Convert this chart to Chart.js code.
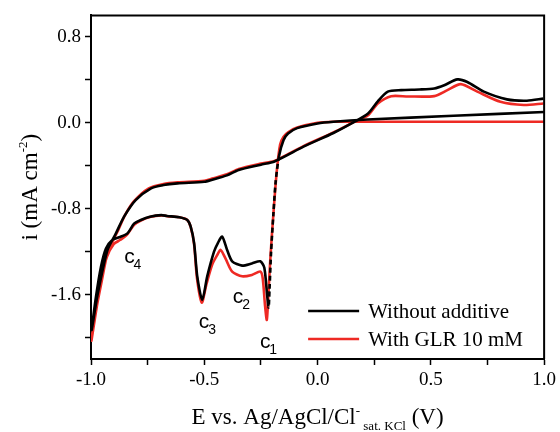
<!DOCTYPE html>
<html>
<head>
<meta charset="utf-8">
<script src="https://cdn.jsdelivr.net/npm/chart.js@4.4.1/dist/chart.umd.min.js"></script>
<style>
  html, body { margin: 0; padding: 0; background: #fff; }
  #wrap { width: 560px; height: 432px; position: relative; }
</style>
</head>
<body>
<div id="wrap"><canvas id="cvChart"></canvas></div>
<script>
// potential (V) and current density (mA cm-2)
const blackE = [1.0, 0.6, 0.22, 0.07, 0.0, -0.09, -0.13, -0.15, -0.17, -0.185, -0.195, -0.205, -0.212, -0.216,
  -0.222, -0.235, -0.253, -0.29, -0.333, -0.377, -0.40, -0.421, -0.44, -0.457, -0.487, -0.509, -0.531, -0.545,
  -0.56, -0.575, -0.61, -0.664, -0.69, -0.74, -0.78, -0.81, -0.839, -0.875, -0.905, -0.934, -0.956, -0.978, -0.997,
  -0.97, -0.927, -0.89, -0.854, -0.803, -0.735, -0.68, -0.618, -0.5, -0.465, -0.40, -0.348, -0.25, -0.19,
  -0.06, 0.07, 0.164, 0.223, 0.266, 0.31, 0.369, 0.45, 0.515, 0.559, 0.617, 0.661, 0.734, 0.836, 0.924, 0.997];
const blackI = [0.10, 0.065, 0.03, 0.01, -0.006, -0.05, -0.10, -0.16, -0.31, -0.55, -0.85, -1.2, -1.55, -1.72,
  -1.62, -1.35, -1.29, -1.31, -1.33, -1.29, -1.18, -1.06, -1.12, -1.2, -1.43, -1.65, -1.43, -1.12,
  -0.967, -0.905, -0.88, -0.868, -0.86, -0.875, -0.905, -0.94, -1.03, -1.066, -1.09, -1.17, -1.34, -1.62, -1.93,
  -1.59, -1.184, -1.03, -0.874, -0.72, -0.61, -0.58, -0.564, -0.549, -0.53, -0.49, -0.44, -0.39, -0.36,
  -0.22, -0.095, 0.01, 0.087, 0.2, 0.29, 0.304, 0.31, 0.32, 0.35, 0.404, 0.38, 0.29, 0.218, 0.205, 0.225];

const redE = [1.0, 0.5, 0.15, 0.07, 0.0, -0.09, -0.13, -0.15, -0.165, -0.18, -0.195, -0.208, -0.217, -0.224,
  -0.232, -0.242, -0.253, -0.29, -0.333, -0.377, -0.405, -0.428, -0.445, -0.465, -0.49, -0.511, -0.532, -0.545,
  -0.56, -0.575, -0.61, -0.664, -0.69, -0.74, -0.78, -0.81, -0.84, -0.87, -0.9, -0.93, -0.955, -0.98, -0.998,
  -0.975, -0.955, -0.925, -0.88, -0.85, -0.81, -0.745, -0.68, -0.618, -0.5, -0.465, -0.40, -0.348, -0.25, -0.19,
  -0.06, 0.07, 0.164, 0.223, 0.266, 0.325, 0.4, 0.515, 0.573, 0.632, 0.705, 0.807, 0.91, 0.997];
const redI = [0.01, 0.01, 0.01, 0.01, 0.0, -0.045, -0.09, -0.13, -0.2, -0.45, -0.85, -1.25, -1.6, -1.835,
  -1.70, -1.45, -1.386, -1.417, -1.43, -1.386, -1.27, -1.184, -1.24, -1.32, -1.50, -1.675, -1.45, -1.13,
  -0.97, -0.905, -0.88, -0.87, -0.862, -0.877, -0.91, -0.95, -1.04, -1.09, -1.13, -1.25, -1.45, -1.75, -2.03,
  -1.72, -1.5, -1.2, -1.0, -0.86, -0.73, -0.61, -0.57, -0.555, -0.54, -0.52, -0.48, -0.43, -0.38, -0.355,
  -0.215, -0.09, 0.01, 0.07, 0.18, 0.248, 0.245, 0.248, 0.304, 0.36, 0.29, 0.195, 0.165, 0.18];

const seriesNames = ['Without additive', 'With GLR 10 mM'];
const xTickValues = [-1.0, -0.75, -0.5, -0.25, 0.0, 0.25, 0.5, 0.75, 1.0];
const yTickValues = [-2.0, -1.6, -1.2, -0.8, -0.4, 0.0, 0.4, 0.8];
const xLabelled = [-1.0, -0.5, 0.0, 0.5, 1.0];
const yLabelled = [-1.6, -0.8, 0.0, 0.8];

// peak labels c1..c4 (position of the "c")
const peakSubs = ['1', '2', '3', '4'];
const peakE = [-0.231, -0.351, -0.501, -0.830];
const peakI = [-2.047, -1.62, -1.853, -1.256];

function toPoints(xs, ys) {
  return xs.map((x, i) => ({ x: x, y: ys[i] }));
}

const serif = "'Liberation Serif', 'Times New Roman', serif";
const sans = "'Liberation Sans', Arial, sans-serif";

// box frame, axis titles, peak labels, legend
const extrasPlugin = {
  id: 'extras',
  afterDraw(chart) {
    const ctx = chart.ctx;
    const a = chart.chartArea;
    const xs = chart.scales.x, ys = chart.scales.y;
    ctx.save();
    ctx.strokeStyle = '#000';
    ctx.lineWidth = 2;
    ctx.beginPath();
    ctx.moveTo(a.left, a.top);
    ctx.lineTo(a.right, a.top);
    ctx.lineTo(a.right, a.bottom);
    ctx.stroke();

    ctx.fillStyle = '#000';
    ctx.textBaseline = 'alphabetic';
    ctx.textAlign = 'left';

    // x title
    const big = '23px ' + serif, small = '13px ' + serif;
    const parts = [
      { t: 'E vs. Ag/AgCl/Cl', f: big, dy: 0 },
      { t: '-', f: small, dy: -9 },
      { t: ' sat. KCl', f: small, dy: 6 },
      { t: ' (V)', f: big, dy: 0 }
    ];
    let total = 0;
    parts.forEach(p => { ctx.font = p.f; p.w = ctx.measureText(p.t).width; });
    total = parts[0].w + Math.max(parts[1].w, parts[2].w) * 0 + parts[1].w + parts[2].w + parts[3].w;
    let x0 = (a.left + a.right) / 2 - total / 2;
    const base = 424;
    parts.forEach(p => {
      ctx.font = p.f;
      ctx.fillText(p.t, x0, base + p.dy);
      x0 += p.w;
    });

    // y title, rotated
    ctx.save();
    ctx.translate(37, (a.top + a.bottom) / 2);
    ctx.rotate(-Math.PI / 2);
    const yp = [
      { t: 'i (mA cm', f: big, dy: 0 },
      { t: '-2', f: small, dy: -10 },
      { t: ')', f: big, dy: 0 }
    ];
    let yw = 0;
    yp.forEach(p => { ctx.font = p.f; p.w = ctx.measureText(p.t).width; yw += p.w; });
    let y0 = -yw / 2;
    yp.forEach(p => {
      ctx.font = p.f;
      ctx.fillText(p.t, y0, p.dy);
      y0 += p.w;
    });
    ctx.restore();

    // peak labels
    ctx.textAlign = 'center';
    ctx.textBaseline = 'middle';
    peakSubs.forEach((s, i) => {
      const px = xs.getPixelForValue(peakE[i]);
      const py = ys.getPixelForValue(peakI[i]);
      ctx.font = '21px ' + sans;
      ctx.fillText('c', px, py);
      ctx.font = '14px ' + sans;
      ctx.fillText(s, px + 8, py + 8);
    });

    // legend
    const colors = ['#000000', '#ee2a24'];
    const rows = [a.bottom - 48, a.bottom - 20];
    ctx.textAlign = 'left';
    ctx.textBaseline = 'middle';
    ctx.font = '21px ' + serif;
    seriesNames.forEach((n, i) => {
      ctx.strokeStyle = colors[i];
      ctx.lineWidth = 2.5;
      ctx.beginPath();
      ctx.moveTo(a.right - 236, rows[i]);
      ctx.lineTo(a.right - 185, rows[i]);
      ctx.stroke();
      ctx.fillText(n, a.right - 176, rows[i] + 1);
    });
    ctx.restore();
  }
};

const canvas = document.getElementById('cvChart');
const chart = new Chart(canvas.getContext('2d'), {
  type: 'scatter',
  data: {
    datasets: [{
      label: seriesNames[0],
      data: toPoints(blackE, blackI),
      showLine: true,
      borderColor: '#000000',
      backgroundColor: '#000000',
      borderWidth: 2.6,
      pointRadius: 0,
      tension: 0.25,
      segment: {
        // the steep c1 branch looks dashed in the original
        borderDash: c => (c.p0.parsed.x > -0.22 && c.p1.parsed.x > -0.22 && c.p1.parsed.y < -0.5) ? [5, 3] : undefined
      }
    }, {
      label: seriesNames[1],
      data: toPoints(redE, redI),
      showLine: true,
      borderColor: '#ee2a24',
      backgroundColor: '#ee2a24',
      borderWidth: 2.6,
      pointRadius: 0,
      tension: 0.25
    }]
  },
  options: {
    responsive: true,
    maintainAspectRatio: false,
    animation: false,
    layout: { padding: { top: 15, right: 12, left: 0, bottom: 0 } },
    plugins: {
      legend: { display: false },
      tooltip: { enabled: false }
    },
    scales: {
      x: {
        type: 'linear',
        min: -1.0,
        max: 1.0,
        afterBuildTicks: s => { s.ticks = xTickValues.map(v => ({ value: v })); },
        afterFit: s => { s.height = 73; },
        ticks: {
          color: '#000',
          font: { family: serif, size: 19 },
          padding: 4,
          maxRotation: 0,
          autoSkip: false,
          callback: v => xLabelled.some(t => Math.abs(t - v) < 1e-6) ? v.toFixed(1) : ''
        },
        grid: { drawOnChartArea: false, drawTicks: true, tickLength: 6, color: '#000', tickWidth: 1.5 },
        border: { display: true, color: '#000', width: 2 }
      },
      y: {
        type: 'linear',
        min: -2.2,
        max: 1.0,
        afterBuildTicks: s => { s.ticks = yTickValues.map(v => ({ value: v })); },
        afterFit: s => { s.width = 91; },
        ticks: {
          color: '#000',
          font: { family: serif, size: 19 },
          padding: 4,
          autoSkip: false,
          callback: v => yLabelled.some(t => Math.abs(t - v) < 1e-6) ? v.toFixed(1) : ''
        },
        grid: { drawOnChartArea: false, drawTicks: true, tickLength: 6, color: '#000', tickWidth: 1.5 },
        border: { display: true, color: '#000', width: 2 }
      }
    }
  },
  plugins: [extrasPlugin]
});
</script>
</body>
</html>
